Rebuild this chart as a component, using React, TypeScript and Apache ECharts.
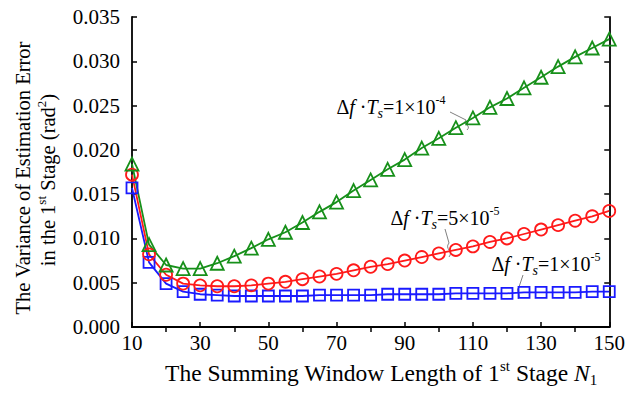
import React, { useEffect, useRef } from "react";
import * as echarts from "echarts";

const windowLengths = [10, 15, 20, 25, 30, 35, 40, 45, 50, 55, 60, 65, 70, 75, 80, 85, 90, 95, 100, 105, 110, 115, 120, 125, 130, 135, 140, 145, 150];
const seriesA = [0.0184, 0.0093, 0.0070, 0.0066, 0.0066, 0.0072, 0.0080, 0.0089, 0.0099, 0.0107, 0.0118, 0.0130, 0.0141, 0.0154, 0.0166, 0.0178, 0.0189, 0.0202, 0.0213, 0.0225, 0.0236, 0.0248, 0.0258, 0.0270, 0.0282, 0.0294, 0.0305, 0.0315, 0.0325];
const seriesB = [0.0172, 0.0082, 0.0059, 0.0049, 0.0047, 0.0046, 0.0046, 0.0047, 0.0049, 0.0051, 0.0054, 0.0057, 0.0060, 0.0064, 0.0068, 0.0071, 0.0075, 0.0079, 0.0083, 0.0087, 0.0091, 0.0096, 0.0100, 0.0105, 0.0110, 0.0115, 0.0120, 0.0125, 0.0131];
const seriesC = [0.0157, 0.0073, 0.0049, 0.0040, 0.0037, 0.0036, 0.0035, 0.0035, 0.0035, 0.0035, 0.0035, 0.0036, 0.0036, 0.0036, 0.0036, 0.0037, 0.0037, 0.0037, 0.0037, 0.0038, 0.0038, 0.0038, 0.0038, 0.0039, 0.0039, 0.0039, 0.0039, 0.0040, 0.0040];
const topTicks = [20, 40, 60, 80, 100, 120, 140];

const FONT = "Liberation Serif";
const GREEN = "#17901a";
const RED = "#ff1a1a";
const BLUE = "#1a1aff";
const GRAY = "#808080";

const rich = (size: number) => ({
  n: { fontFamily: FONT, fontSize: size, color: "#000", lineHeight: size + 6 },
  i: { fontFamily: FONT, fontSize: size, fontStyle: "italic", color: "#000", lineHeight: size + 6 },
  sup: { fontFamily: FONT, fontSize: Math.round(size * 0.62), color: "#000", lineHeight: Math.round(size * 0.62), verticalAlign: "top" },
  sub: { fontFamily: FONT, fontSize: Math.round(size * 0.62), color: "#000", lineHeight: Math.round(size * 0.62), verticalAlign: "bottom" },
  subi: { fontFamily: FONT, fontSize: Math.round(size * 0.7), fontStyle: "italic", color: "#000", lineHeight: Math.round(size * 0.7), verticalAlign: "bottom" },
});

const annText = (exp: string) => `{n|Δ}{i|f}{n| ·}{i|T}{subi|s}{n|=${exp.split("|")[0]}×10}{sup|${exp.split("|")[1]}}`;

function mkSeries(data: number[], color: string, symbol: string, size: number) {
  return {
    type: "line",
    data: windowLengths.map((x, k) => [x, data[k]]),
    symbol,
    symbolSize: size,
    showSymbol: true,
    lineStyle: { color, width: 1.8 },
    itemStyle: { color: "rgba(0,0,0,0)", borderColor: color, borderWidth: 1.8 },
    emphasis: { disabled: true },
  };
}

export default function App() {
  const ref = useRef<HTMLDivElement>(null);
  useEffect(() => {
    const chart = echarts.init(ref.current!, undefined, { renderer: "svg" });
    const axisLine = { show: true, lineStyle: { color: "#000", width: 1.8 } };
    const tick = { show: true, inside: true, length: 5, lineStyle: { color: "#000", width: 1.5 } };
    chart.setOption({
      animation: false,
      textStyle: { fontFamily: FONT },
      grid: { left: 132, right: 16, top: 17, bottom: 67 },
      xAxis: [
        {
          type: "value", position: "bottom", min: 10, max: 150, interval: 20,
          axisLine, axisTick: tick, splitLine: { show: false },
          axisLabel: { fontFamily: FONT, fontSize: 21, color: "#000", margin: 5 },
        },
        {
          type: "value", position: "top", min: 10, max: 150, interval: 10,
          axisLine, axisTick: { ...tick, customValues: topTicks }, splitLine: { show: false },
          axisLabel: { show: false },
        },
      ],
      yAxis: [
        {
          type: "value", position: "left", min: 0, max: 0.035, interval: 0.005,
          axisLine, axisTick: tick, splitLine: { show: false },
          axisLabel: { fontFamily: FONT, fontSize: 21, color: "#000", margin: 12, formatter: (v: number) => v.toFixed(3) },
        },
        {
          type: "value", position: "right", min: 0, max: 0.035, interval: 0.005,
          axisLine, axisTick: tick, splitLine: { show: false },
          axisLabel: { show: false },
        },
      ],
      series: [
        mkSeries(seriesC, BLUE, "rect", 11),
        mkSeries(seriesB, RED, "circle", 12),
        mkSeries(seriesA, GREEN, "triangle", 13),
      ],
      graphic: [
        {
          type: "text", x: 23, y: 178, rotation: Math.PI / 2,
          style: { text: "{n|The Variance of Estimation Error}", rich: rich(20.5), align: "center", verticalAlign: "middle" },
        },
        {
          type: "text", x: 48, y: 180, rotation: Math.PI / 2,
          style: { text: "{n|in the 1}{sup|st}{n| Stage (rad}{sup|2}{n|)}", rich: rich(20.5), align: "center", verticalAlign: "middle" },
        },
        {
          type: "text", x: 381, y: 373,
          style: {
            text: "{n|The Summing Window Length of 1}{sup|st}{n| Stage }{i|N}{sub|1}",
            rich: rich(23.5), align: "center", verticalAlign: "middle",
          },
        },
        { type: "text", x: 391, y: 107, style: { text: annText("1|-4"), rich: rich(20), align: "center", verticalAlign: "middle" } },
        { type: "text", x: 445, y: 218, style: { text: annText("5|-5"), rich: rich(20), align: "center", verticalAlign: "middle" } },
        { type: "text", x: 546, y: 264, style: { text: annText("1|-5"), rich: rich(20), align: "center", verticalAlign: "middle" } },
        { type: "line", shape: { x1: 450, y1: 112, x2: 466, y2: 120 }, style: { stroke: GRAY, lineWidth: 1 } },
        { type: "bezierCurve", shape: { x1: 466, y1: 120, cpx1: 462, cpy1: 125, cpx2: 472, cpy2: 125, x2: 467, y2: 130 }, style: { stroke: GRAY, lineWidth: 1, fill: null } },
        { type: "line", shape: { x1: 445, y1: 229, x2: 449, y2: 243 }, style: { stroke: GRAY, lineWidth: 1 } },
        { type: "bezierCurve", shape: { x1: 449, y1: 243, cpx1: 444, cpy1: 249, cpx2: 454, cpy2: 251, x2: 449, y2: 257 }, style: { stroke: GRAY, lineWidth: 1, fill: null } },
        { type: "line", shape: { x1: 523, y1: 275, x2: 519, y2: 287 }, style: { stroke: GRAY, lineWidth: 1 } },
        { type: "bezierCurve", shape: { x1: 519, y1: 287, cpx1: 514, cpy1: 292, cpx2: 523, cpy2: 294, x2: 518, y2: 299 }, style: { stroke: GRAY, lineWidth: 1, fill: null } },
      ],
    });
    return () => chart.dispose();
  }, []);
  return <div ref={ref} style={{ position: "fixed", left: 0, top: 0, width: 628, height: 394, background: "#fff" }} />;
}
